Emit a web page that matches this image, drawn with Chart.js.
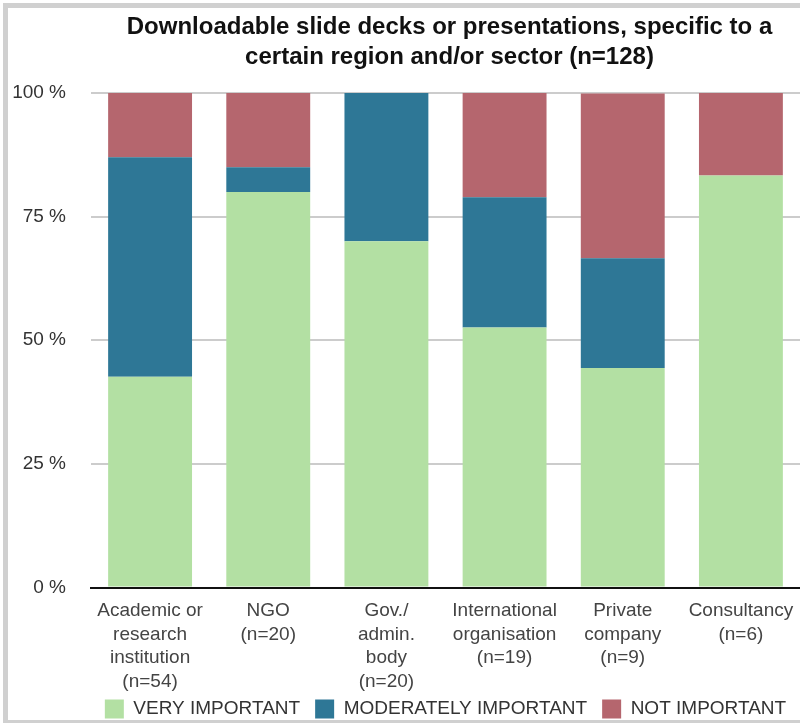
<!DOCTYPE html>
<html>
<head>
<meta charset="utf-8">
<script src="https://cdn.jsdelivr.net/npm/chart.js@4"></script>
<style>
  html, body { margin: 0; padding: 0; background: #fff; overflow: hidden; }
  #wrap { position: relative; width: 800px; height: 723px; }
  #frame { position: absolute; left: 3px; top: 3px; width: 900px; height: 712px;
           border-top: 5px solid #d0d0d0; border-left: 5px solid #d0d0d0; border-bottom: 5px solid #d0d0d0;
           pointer-events: none; }
  canvas { position: absolute; left: 0; top: 0; }
</style>
</head>
<body>
<div id="wrap">
  <canvas id="c" width="800" height="723"></canvas>
  <div id="frame"></div>
</div>
<script>
const titleLines = ["Downloadable slide decks or presentations, specific to a", "certain region and/or sector (n=128)"];
const categories = [
  ["Academic or", "research", "institution", "(n=54)"],
  ["NGO", "(n=20)"],
  ["Gov./", "admin.", "body", "(n=20)"],
  ["International", "organisation", "(n=19)"],
  ["Private", "company", "(n=9)"],
  ["Consultancy", "(n=6)"]
];
const seriesNames = ["VERY IMPORTANT", "MODERATELY IMPORTANT", "NOT IMPORTANT"];
const veryImportant = [42.6, 80, 70, 52.6, 44.4, 83.3];
const moderatelyImportant = [44.4, 5, 30, 26.3, 22.2, 0];
const notImportant = [13.0, 15, 0, 21.1, 33.3, 16.7];
const yTicks = [0, 25, 50, 75, 100];

const FONT = '"Liberation Sans", Arial, Helvetica, sans-serif';
const colors = ["#b3e0a3", "#2e7796", "#b5666e"];

const centerOnArea = {
  id: 'centerOnArea',
  afterLayout(chart) {
    const a = chart.chartArea;
    if (chart.titleBlock) { chart.titleBlock.left = a.left + 4; chart.titleBlock.right = a.right + 4; }
    const lg = chart.legend;
    if (lg) {
      const shift = (a.left + a.right) / 2 - (lg.left + lg.right) / 2;
      lg.left += shift; lg.right += shift;
      const h = lg.bottom - lg.top;
      lg.top = 684.5; lg.bottom = lg.top + h;
    }
  }
};

new Chart(document.getElementById('c'), {
  type: 'bar',
  data: {
    labels: categories,
    datasets: [
      { label: seriesNames[0], data: veryImportant, backgroundColor: colors[0] },
      { label: seriesNames[1], data: moderatelyImportant, backgroundColor: colors[1] },
      { label: seriesNames[2], data: notImportant, backgroundColor: colors[2] }
    ]
  },
  options: {
    responsive: false,
    animation: false,
    devicePixelRatio: 1,
    layout: { padding: { top: 12, left: 0, right: 0, bottom: -14.5 } },
    datasets: { bar: { barPercentage: 0.71, categoryPercentage: 1.0, borderWidth: 0 } },
    plugins: {
      title: {
        display: true, text: titleLines, color: '#111',
        font: { family: FONT, size: 24, weight: 'bold', lineHeight: 1.25 },
        padding: { top: 0, bottom: 21 }
      },
      legend: {
        position: 'bottom',
        labels: {
          color: '#333', boxWidth: 19, boxHeight: 19, padding: 15,
          font: { family: FONT, size: 19 }
        }
      },
      tooltip: { enabled: false }
    },
    scales: {
      x: {
        stacked: true,
        grid: { display: false, drawTicks: false },
        border: { display: true, color: '#111', width: 2 },
        ticks: { color: '#444', padding: 12, maxRotation: 0, autoSkip: false,
                 font: { family: FONT, size: 19, lineHeight: 1.23 } },
        afterFit(s) { s.height = 106; s.paddingLeft = 0; s.paddingRight = 0; }
      },
      y: {
        stacked: true, min: 0, max: 100,
        afterBuildTicks(s) { s.ticks = yTicks.map(v => ({ value: v })); },
        grid: { color: '#cccccc', lineWidth: 2, drawTicks: false },
        border: { display: false },
        ticks: { color: '#333', padding: 25, font: { family: FONT, size: 19 },
                 callback: v => v + ' %' },
        afterFit(s) { s.width = 91; }
      }
    }
  },
  plugins: [centerOnArea]
});
</script>
</body>
</html>
